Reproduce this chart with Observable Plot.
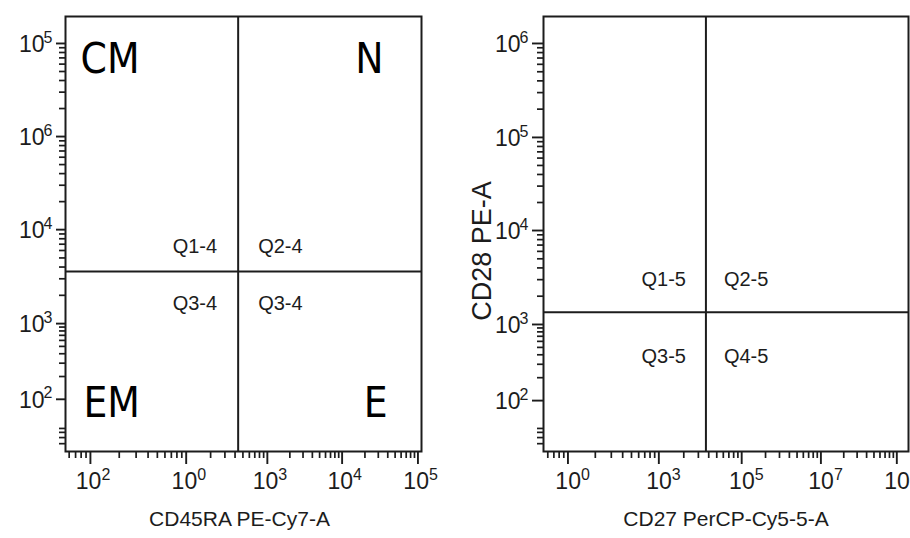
<!DOCTYPE html>
<html>
<head>
<meta charset="utf-8">
<script src="https://cdn.jsdelivr.net/npm/d3@7"></script>
<script src="https://cdn.jsdelivr.net/npm/@observablehq/plot@0.6"></script>
<style>
  body { margin: 0; background: #fff; }
  #wrap { display: flex; width: 910px; height: 538px; overflow: hidden; background: #fff; }
  #wrap svg { overflow: visible; flex: none; }
</style>
</head>
<body>
<div id="wrap"></div>
<script>
// ---- Left panel (memory subsets) : display-channel positions (0–1000) of the decade ticks ----
const leftXMajor = [70, 339, 567, 777, 990];
const leftXExp   = ["2", "0", "3", "4", "5"];
const leftYMajor = [120, 294, 510, 724, 938];
const leftYExp   = ["2", "3", "4", "6", "5"];
const leftGateX = 485;
const leftGateY = 414;
const leftQuadrants  = ["Q1-4", "Q2-4", "Q3-4", "Q3-4"];
const leftPopulations = ["CM", "N", "EM", "E"];
const leftXTitle = "CD45RA PE-Cy7-A";
const leftYTitle = "";

// ---- Right panel ----
const rightXMajor = [67, 316, 543, 760, 968];
const rightXExp   = ["0", "3", "5", "7", "5"];
const rightYMajor = [117, 292, 508, 722, 938];
const rightYExp   = ["2", "3", "4", "5", "6"];
const rightGateX = 445;
const rightGateY = 320;
const rightQuadrants = ["Q1-5", "Q2-5", "Q3-5", "Q4-5"];
const rightXTitle = "CD27 PerCP-Cy5-5-A";
const rightYTitle = "CD28 PE-A";

// near-zero ticks at the bottom of both y axes
const yLowTicks = [18, 32, 44, 53];

const INK = "#1c1c1c";
const FONT = "'Liberation Sans', Arial, Helvetica, sans-serif";
const BIGFONT = "'DejaVu Sans Condensed', 'DejaVu Sans', sans-serif";

function minorTicks(majors, lo, hi, extendBelow) {
  const f = [2, 3, 4, 5, 6, 7, 8, 9].map(Math.log10);
  const out = [];
  for (let i = 0; i < majors.length - 1; i++) {
    const a = majors[i], b = majors[i + 1];
    for (const t of f) out.push(a + (b - a) * t);
  }
  if (extendBelow) {
    const d = majors[1] - majors[0];
    for (const t of f) { const v = majors[0] - d * (1 - t); if (v > lo) out.push(v); }
  }
  const n = majors.length, d2 = majors[n - 1] - majors[n - 2];
  for (const t of f) { const v = majors[n - 1] + d2 * t; if (v < hi) out.push(v); }
  return out;
}

function panel(o) {
  const xt = o.xMajor.map((v, i) => ({v, e: o.xExp[i]}));
  const yt = o.yMajor.map((v, i) => ({v, e: o.yExp[i]}));
  const g = [{x: o.gateX, y: o.gateY}];
  const T = {fill: INK, lineAnchor: "middle"};
  const marks = [
    Plot.frame({stroke: INK, strokeWidth: 2}),
    Plot.ruleX([o.gateX], {stroke: INK, strokeWidth: 2}),
    Plot.ruleY([o.gateY], {stroke: INK, strokeWidth: 2}),
    Plot.axisX(o.xMajor, {anchor: "bottom", tickSize: 13, stroke: INK, strokeWidth: 1.9, fill: "none"}),
    Plot.axisX(minorTicks(o.xMajor, 0, 1000, true), {anchor: "bottom", tickSize: 7, stroke: INK, strokeWidth: 1.7, fill: "none"}),
    Plot.axisY(o.yMajor, {anchor: "left", tickSize: o.yTick, stroke: INK, strokeWidth: 1.9, fill: "none"}),
    Plot.axisY(minorTicks(o.yMajor, 0, 1000, false).concat(yLowTicks), {anchor: "left", tickSize: 6, stroke: INK, strokeWidth: 1.7, fill: "none"}),
    // x tick labels 10^n
    Plot.text(xt, {x: "v", text: () => "10", frameAnchor: "bottom", textAnchor: "end", dx: o.xLabDx, dy: 30, fontSize: 23, ...T}),
    Plot.text(xt, {x: "v", text: "e", frameAnchor: "bottom", textAnchor: "start", dx: o.xLabDx, dy: 23, fontSize: 16, ...T}),
    // y tick labels 10^n
    Plot.text(yt, {y: "v", text: () => "10", frameAnchor: "left", textAnchor: "end", dx: o.yLabDx - 8, dy: 1, fontSize: 23, ...T}),
    Plot.text(yt, {y: "v", text: "e", frameAnchor: "left", textAnchor: "end", dx: o.yLabDx, dy: -6, fontSize: 16, ...T}),
    // quadrant names
    Plot.text(g, {x: "x", y: "y", text: () => o.quads[0], textAnchor: "end", dx: o.qdx[0], dy: o.qdy[0], fontSize: 20, ...T}),
    Plot.text(g, {x: "x", y: "y", text: () => o.quads[1], textAnchor: "start", dx: o.qdx[1], dy: o.qdy[0], fontSize: 20, ...T}),
    Plot.text(g, {x: "x", y: "y", text: () => o.quads[2], textAnchor: "end", dx: o.qdx[0], dy: o.qdy[1], fontSize: 20, ...T}),
    Plot.text(g, {x: "x", y: "y", text: () => o.quads[3], textAnchor: "start", dx: o.qdx[1], dy: o.qdy[1], fontSize: 20, ...T}),
    // axis titles
    Plot.text([o.xTitle], {frameAnchor: "bottom", textAnchor: "middle", dx: o.xTitleDx, dy: 68, fontSize: 21, ...T})
  ];
  if (o.yTitle) {
    marks.push(Plot.text([o.yTitle], {frameAnchor: "left", textAnchor: "middle", rotate: -90, dx: -61, dy: 17, fontSize: 27, ...T}));
  }
  if (o.pops) {
    const P = o.pops;
    const B = {fontSize: 42, fontFamily: BIGFONT, fill: "#000", lineAnchor: "middle"};
    marks.push(
      Plot.text([P[0]], {frameAnchor: "top-left", textAnchor: "start", dx: 15, dy: 43, ...B}),
      Plot.text([P[1]], {frameAnchor: "top-right", textAnchor: "end", dx: -38, dy: 43, ...B}),
      Plot.text([P[2]], {frameAnchor: "bottom-left", textAnchor: "start", dx: 18, dy: -48, ...B}),
      Plot.text([P[3]], {frameAnchor: "bottom-right", textAnchor: "end", dx: -34, dy: -48, ...B})
    );
  }
  return Plot.plot({
    width: o.width,
    height: 538,
    marginLeft: o.marginLeft,
    marginRight: o.marginRight,
    marginTop: 16,
    marginBottom: 87,
    x: {type: "linear", domain: [0, 1000], axis: null},
    y: {type: "linear", domain: [0, 1000], axis: null},
    style: {fontFamily: FONT, background: "#fff", color: INK, overflow: "visible"},
    marks
  });
}

const wrap = document.getElementById("wrap");
wrap.append(panel({
  width: 455, marginLeft: 65, marginRight: 34,
  xMajor: leftXMajor, xExp: leftXExp, yMajor: leftYMajor, yExp: leftYExp,
  gateX: leftGateX, gateY: leftGateY, quads: leftQuadrants,
  qdx: [-21, 20], qdy: [-25, 32],
  xTitle: leftXTitle, xTitleDx: -4, yTitle: leftYTitle,
  xLabDx: 11, yLabDx: -13, yTick: 9,
  pops: leftPopulations
}));
wrap.append(panel({
  width: 455, marginLeft: 88, marginRight: 2,
  xMajor: rightXMajor, xExp: rightXExp, yMajor: rightYMajor, yExp: rightYExp,
  gateX: rightGateX, gateY: rightGateY, quads: rightQuadrants,
  qdx: [-20, 18], qdy: [-33, 44],
  xTitle: rightXTitle, xTitleDx: 0, yTitle: rightYTitle,
  xLabDx: 13, yLabDx: -15, yTick: 11,
  pops: null
}));
</script>
</body>
</html>
